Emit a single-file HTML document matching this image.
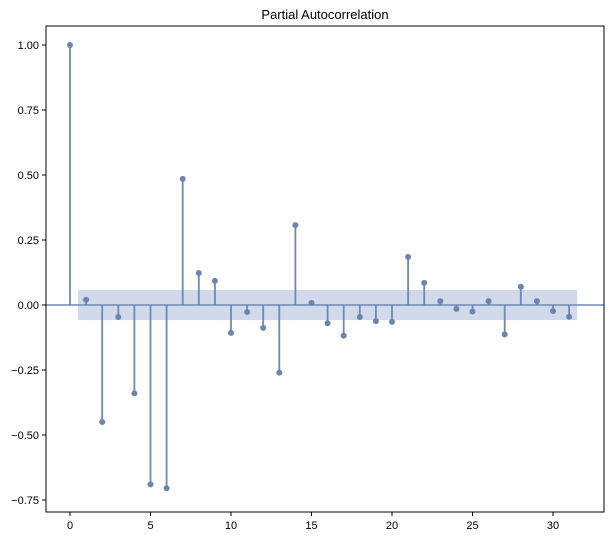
<!DOCTYPE html>
<html><head><meta charset="utf-8"><style>
html,body{margin:0;padding:0;background:#fff;}
svg{display:block;font-family:"Liberation Sans",sans-serif;}
</style></head><body>
<svg id="chart" width="610" height="536"></svg>
<script>
const lags=[0,1,2,3,4,5,6,7,8,9,10,11,12,13,14,15,16,17,18,19,20,21,22,23,24,25,26,27,28,29,30,31];
const pacfValues=[1.0,0.02,-0.45,-0.046,-0.34,-0.69,-0.705,0.485,0.123,0.093,-0.107,-0.027,-0.088,-0.26,0.307,0.008,-0.07,-0.118,-0.046,-0.062,-0.065,0.185,0.085,0.015,-0.015,-0.025,0.015,-0.113,0.07,0.015,-0.023,-0.045];
const confBand=0.058;
const xTicks=[0,5,10,15,20,25,30];
const yTicks=[1.0,0.75,0.5,0.25,0.0,-0.25,-0.5,-0.75];
const yTickLabels=["1.00","0.75","0.50","0.25","0.00","\u22120.25","\u22120.50","\u22120.75"];

const NS="http://www.w3.org/2000/svg";
const svg=document.getElementById('chart');
const L=46,R=604,T=26,B=512;
const xS=v=>70+v*(553-70)/30;
const yS=v=>305-v*260;
function mk(tag,attrs,parent){const e=document.createElementNS(NS,tag);for(const k in attrs)e.setAttribute(k,attrs[k]);(parent||svg).appendChild(e);return e;}
const blue="#6f87b1";

const band=mk('rect',{x:xS(0.5),y:yS(confBand),width:xS(31.5)-xS(0.5),height:yS(-confBand)-yS(confBand),fill:"#d0daea"});


const zl=mk('line',{x1:L,x2:R,y1:yS(0),y2:yS(0),stroke:blue,'stroke-width':1.5});



lags.forEach((lag,i)=>{
  const v=pacfValues[i];
  const s=mk('line',{x1:xS(lag),x2:xS(lag),y1:yS(0),y2:yS(v),stroke:blue,'stroke-width':1.8});
  
  
  const c=mk('circle',{cx:xS(lag),cy:yS(v),r:3,fill:"#6d84ad"});
  
  
});

const frame=mk('rect',{x:L,y:T,width:R-L,height:B-T,fill:"none",stroke:"#000",'stroke-width':1});



xTicks.forEach(t=>{
  const tk=mk('line',{x1:xS(t),x2:xS(t),y1:B,y2:B+4,stroke:"#000"});
  
  
  const tx=mk('text',{x:xS(t),y:B+17,'font-size':11,'text-anchor':'middle',fill:"#000"});
  tx.textContent=t;
  
  
});
yTicks.forEach((t,i)=>{
  const tk=mk('line',{x1:L-4,x2:L,y1:yS(t),y2:yS(t),stroke:"#000"});
  
  
  const tx=mk('text',{x:L-7,y:yS(t)+4,'font-size':11,'text-anchor':'end',fill:"#000"});
  tx.textContent=yTickLabels[i];
  
  
});
const title=mk('text',{x:(L+R)/2,y:19,'font-size':13,'text-anchor':'middle',fill:"#000"});
title.textContent="Partial Autocorrelation";


</script>
</body></html>
